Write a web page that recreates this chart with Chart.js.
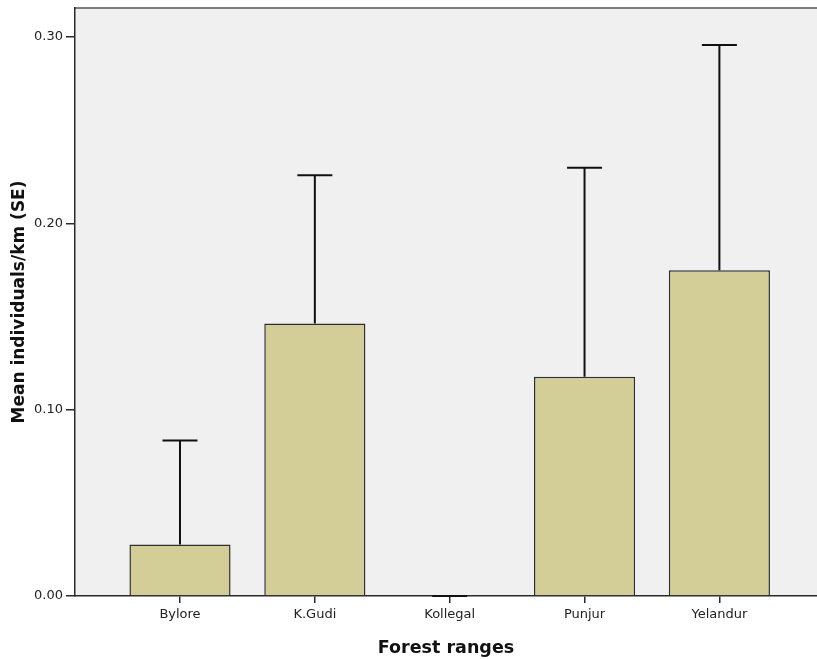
<!DOCTYPE html>
<html>
<head>
<meta charset="utf-8">
<title>Mean individuals/km by forest range</title>
<script src="https://cdn.jsdelivr.net/npm/chart.js@4"></script>
<style>
  html, body { margin: 0; padding: 0; background: #fff; }
  #wrap { width: 817px; height: 659px; }
</style>
</head>
<body>
<div id="wrap"><canvas id="chart"></canvas></div>
<script>
// ----------------------------
// Data
// ----------------------------
const ranges = ["Bylore", "K.Gudi", "Kollegal", "Punjur", "Yelandur"];
const meanPerKm = [0.0277, 0.1462, 0.0, 0.1177, 0.1748];
const stdErr = [0.0557, 0.0796, 0.0, 0.1122, 0.1210];
const yTicks = [0.0, 0.1, 0.2, 0.3];

// ----------------------------
// Look
// ----------------------------
const BAR_FILL = "#d3ce98";
const BAR_EDGE = "#2e2e2e";
const PLOT_BG = "#f0f0f0";
const AXIS = "#2a2a2a";

// x positions are category indexes; the visible window is wider on the left like the SPSS plot
const X_MIN = -0.7786;
const X_MAX = 4.7238;
const Y_MAX = 0.3156;

// plot background + top frame line
const plotFrame = {
  id: "plotFrame",
  beforeDraw(chart) {
    const { ctx, chartArea: a } = chart;
    ctx.save();
    ctx.fillStyle = PLOT_BG;
    ctx.fillRect(a.left, a.top, a.right - a.left, a.bottom - a.top);
    ctx.strokeStyle = "#555";
    ctx.lineWidth = 1.5;
    ctx.beginPath();
    ctx.moveTo(a.left, a.top);
    ctx.lineTo(a.right, a.top);
    ctx.stroke();
    ctx.restore();
  }
};

// upper-only SE whiskers with a cap
const errorBars = {
  id: "errorBars",
  afterDatasetsDraw(chart) {
    const { ctx, scales: { y } } = chart;
    const meta = chart.getDatasetMeta(0);
    ctx.save();
    ctx.strokeStyle = "#111";
    ctx.lineWidth = 2;
    meta.data.forEach((bar, i) => {
      const top = y.getPixelForValue(meanPerKm[i] + stdErr[i]);
      ctx.beginPath();
      ctx.moveTo(bar.x, bar.y);
      ctx.lineTo(bar.x, top);
      ctx.moveTo(bar.x - 17.5, top);
      ctx.lineTo(bar.x + 17.5, top);
      ctx.stroke();
    });
    ctx.restore();
  }
};

new Chart(document.getElementById("chart"), {
  type: "bar",
  data: {
    datasets: [{
      data: meanPerKm.map((v, i) => ({ x: i, y: v })),
      backgroundColor: BAR_FILL,
      borderColor: BAR_EDGE,
      borderWidth: 1.5,
      categoryPercentage: 1.0,
      barPercentage: 0.75
    }]
  },
  options: {
    responsive: true,
    maintainAspectRatio: false,
    animation: false,
    layout: { padding: { top: 8, left: 0, right: 0, bottom: 0 } },
    plugins: {
      legend: { display: false },
      tooltip: { enabled: false }
    },
    scales: {
      x: {
        type: "linear",
        offset: false,
        min: X_MIN,
        max: X_MAX,
        afterFit: s => { s.height = 63; s.paddingLeft = 0; s.paddingRight = 0; },
        afterBuildTicks: s => { s.ticks = ranges.map((_, i) => ({ value: i })); },
        grid: { offset: false, drawOnChartArea: false, drawTicks: true, tickLength: 7, color: AXIS, lineWidth: 1.5 },
        border: { display: true, color: AXIS, width: 1.5 },
        ticks: {
          autoSkip: false,
          maxRotation: 0,
          padding: 4,
          color: "#222",
          font: { family: "DejaVu Sans", size: 13 },
          callback: v => ranges[v] ?? ""
        },
        title: {
          display: true,
          text: "Forest ranges",
          color: "#111",
          font: { family: "DejaVu Sans", size: 17.5, weight: "bold" },
          padding: { top: 0, bottom: 0 }
        }
      },
      y: {
        min: 0,
        max: Y_MAX,
        afterFit: s => { s.width = 75; s.paddingTop = 0; s.paddingBottom = 0; },
        afterBuildTicks: s => { s.ticks = yTicks.map(v => ({ value: v })); },
        grid: { drawOnChartArea: false, drawTicks: true, tickLength: 9, color: AXIS, lineWidth: 1.5 },
        border: { display: true, color: AXIS, width: 1.5 },
        ticks: {
          padding: 3,
          color: "#222",
          font: { family: "DejaVu Sans", size: 13 },
          callback: v => Number(v).toFixed(2)
        },
        title: {
          display: true,
          text: "Mean individuals/km (SE)",
          color: "#111",
          font: { family: "DejaVu Sans", size: 17, weight: "bold" },
          padding: { top: 9, bottom: 0 }
        }
      }
    }
  },
  plugins: [plotFrame, errorBars]
});
</script>
</body>
</html>
